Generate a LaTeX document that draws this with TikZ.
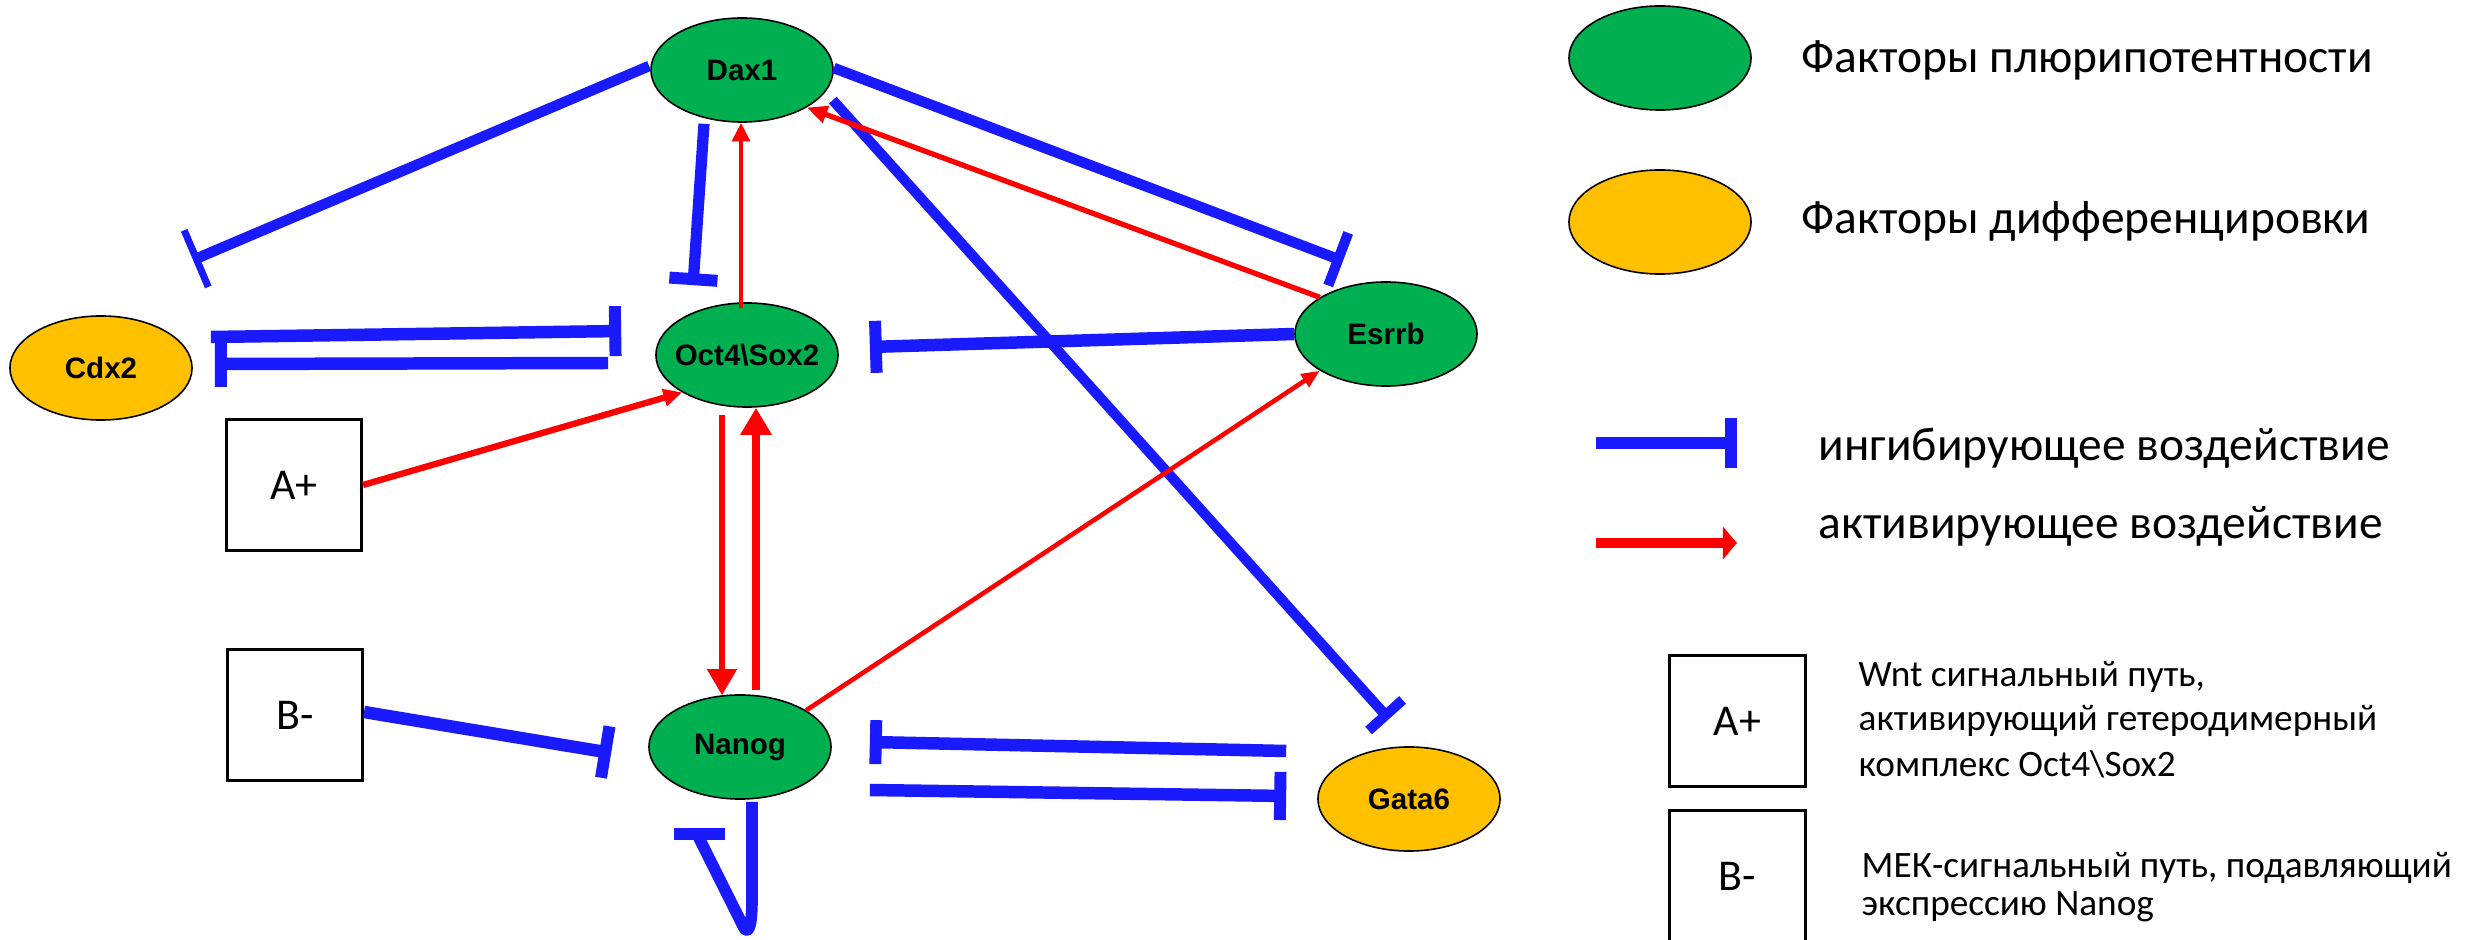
\documentclass[tikz,border=0pt]{standalone}
\usepackage{fontspec}
\setmainfont{Carlito}
\newfontfamily\genefont{Liberation Sans}
\usetikzlibrary{arrows.meta,shapes.geometric,calc}
\definecolor{pluri}{RGB}{0,176,80}
\definecolor{differ}{RGB}{255,192,0}
\definecolor{inhblue}{RGB}{26,26,255}
\definecolor{actred}{RGB}{255,0,0}
% gene names are set in a zero-width box so that every ellipse keeps its given size
\newcommand\genelabel[1]{\makebox[0pt][c]{#1}}

\begin{document}
\begin{tikzpicture}[x=0.01cm,y=-0.01cm,
  gene/.style={ellipse, draw=black, line width=0.45pt, minimum width=1.82cm,
    minimum height=1.04cm, inner sep=0pt,
    font=\genefont\bfseries\fontsize{8.4}{10}\selectfont},
  plurinode/.style={gene, fill=pluri},
  diffnode/.style={gene, fill=differ},
  sigbox/.style={rectangle, draw=black, line width=0.85pt, minimum width=1.35cm,
    minimum height=1.31cm, inner sep=0pt, font=\fontsize{12.5}{15}\selectfont},
  legtext/.style={inner sep=0pt, anchor=base west, font=\fontsize{13.5}{16}\selectfont},
  notetext/.style={inner sep=0pt, anchor=base west, font=\fontsize{10.6}{12.5}\selectfont},
  inh/.style n args={3}{draw=inhblue, line width=#1, -{Bar[width=#2, line width=#3]}},
  act/.style n args={3}{draw=actred, line width=#1, -{Triangle[length=#2, width=#3]}},
]
\useasboundingbox (0,0) rectangle (2466,940);
\fill[white] (0,0) rectangle (2466,940);

% factor nodes
\node[plurinode] (dax) at (742,70) {\genelabel{Dax1}};
\node[plurinode] (oct) at (747,355) {\genelabel{Oct4\textbackslash Sox2}};
\node[plurinode] (esr) at (1386,334) {\genelabel{Esrrb}};
\node[diffnode]  (cdx) at (101,368) {\genelabel{Cdx2}};
\node[plurinode] (nan) at (740,747) {\genelabel{Nanog}};
\node[diffnode]  (gat) at (1409,799) {\genelabel{Gata6}};

% signalling inputs
\node[sigbox] (sa) at (294,485) {A+};
\node[sigbox] (sb) at (295,715) {B-};

% free ends of inhibitions that stop short of a node
\coordinate (daxcut) at (193,260);
\coordinate (esrcut) at (1343,261);
\coordinate (gatcut) at (1389,719);

% Dax1 interactions
\draw[inh={3pt}{17.5pt}{2pt}] ($(dax.west)+(-1,-4)$) -- (daxcut);
\draw[inh={3pt}{16pt}{2.9pt}] ($(dax.east)+(0,-2)$) -- (esrcut);
\draw[inh={3.2pt}{13.7pt}{3.4pt}] ($(dax.south)+(-38,1)$) -- ($(oct.north)+(-54,-17)$);
\draw[inh={2.9pt}{13pt}{2.9pt}] ($(dax.-19)+(12,3)$) -- (gatcut);
\draw[act={1.3pt}{5.3pt}{5pt}] ($(oct.north)+(-6,6)$) -- ($(dax.south)+(-1,0)$);
\draw[act={1.5pt}{5.8pt}{4.8pt}] (esr.151) -- (dax.-30);

% Cdx2 <-> Oct4/Sox2 mutual repression
\draw[inh={3.55pt}{14.2pt}{3.4pt}] ($(cdx.east)+(18,-31)$) -- ($(oct.west)+(-34,-24)$);
\draw[inh={3.55pt}{13pt}{3.4pt}] ($(oct.west)+(-47,8)$) -- ($(cdx.east)+(22,-4)$);

% Esrrb -| Oct4/Sox2
\draw[inh={3.55pt}{14.8pt}{3.4pt}] (esr.west) -- ($(oct.east)+(31,-8)$);

% activations around Oct4/Sox2 and Nanog
\draw[act={1.8pt}{5.3pt}{4.8pt}] (sa.east) -- (oct.210);
\draw[act={1.5pt}{7.4pt}{8.2pt}] ($(oct.south)+(-25,7)$) -- ($(nan.north)+(-18,1)$);
\draw[act={2.1pt}{7.7pt}{8.5pt}] ($(nan.north)+(16,-4)$) -- ($(oct.south)+(9,0)$);
\draw[act={1.3pt}{5.2pt}{4.2pt}] (nan.29) -- (esr.209);

% repression of Nanog
\draw[inh={3.55pt}{14.8pt}{3.4pt}] ($(sb.east)+(0,-3)$) -- ($(nan.west)+(-37,6)$);
\draw[inh={3.55pt}{12.5pt}{3.4pt}] ($(gat.west)+(-31,-48)$) -- ($(nan.east)+(38,-5)$);
\draw[inh={3.55pt}{13.7pt}{3.4pt}] ($(nan.east)+(38,43)$) -- ($(gat.west)+(-31,-3)$);
% Nanog self-repression loop
\draw[inh={3.3pt}{14.5pt}{3.4pt}, line join=round]
  ($(nan.south)+(12,2)$) -- ($(nan.south)+(12,100)$)
  .. controls ($(nan.south)+(12,128)$) and ($(nan.south)+(8,138)$) .. ($(nan.south)+(2,124)$)
  -- ($(nan.south)+(-41,38)$) -- ($(nan.south)+(-41,28)$);

% legend: factor classes
\node[plurinode] (lgp) at (1660,58) {};
\node[diffnode]  (lgd) at (1660,222) {};
\node[legtext] (tp) at (1801,73) {Факторы плюрипотентности};
\node[legtext] (td) at (1801,234) {Факторы дифференцировки};

% legend: interaction types
\coordinate (li1) at (1596,443);
\coordinate (li2) at (1737,443);
\draw[inh={3.4pt}{14.5pt}{3.4pt}] (li1) -- (li2);
\node[legtext] (ti) at (1818,461) {ингибирующее воздействие};
\coordinate (la1) at (1596,543);
\coordinate (la2) at (1737,543);
\draw[act={2.6pt}{4pt}{9.1pt}] (la1) -- (la2);
\node[legtext] (ta) at (1818,538) {активирующее воздействие};

% legend: signalling inputs
\node[sigbox] (lga) at (1737.5,721) {A+};
\node[sigbox] (lgb) at (1737.5,876) {B-};
\node[notetext] (na1) at (1858,686) {Wnt сигнальный путь,};
\node[notetext] (na2) at (1858,730) {активирующий гетеродимерный};
\node[notetext] (na3) at (1858,776) {комплекс Oct4\textbackslash Sox2};
\node[notetext] (nb1) at (1861,877) {МЕК-сигнальный путь, подавляющий};
\node[notetext] (nb2) at (1861,915) {экспрессию Nanog};
\end{tikzpicture}
\end{document}
